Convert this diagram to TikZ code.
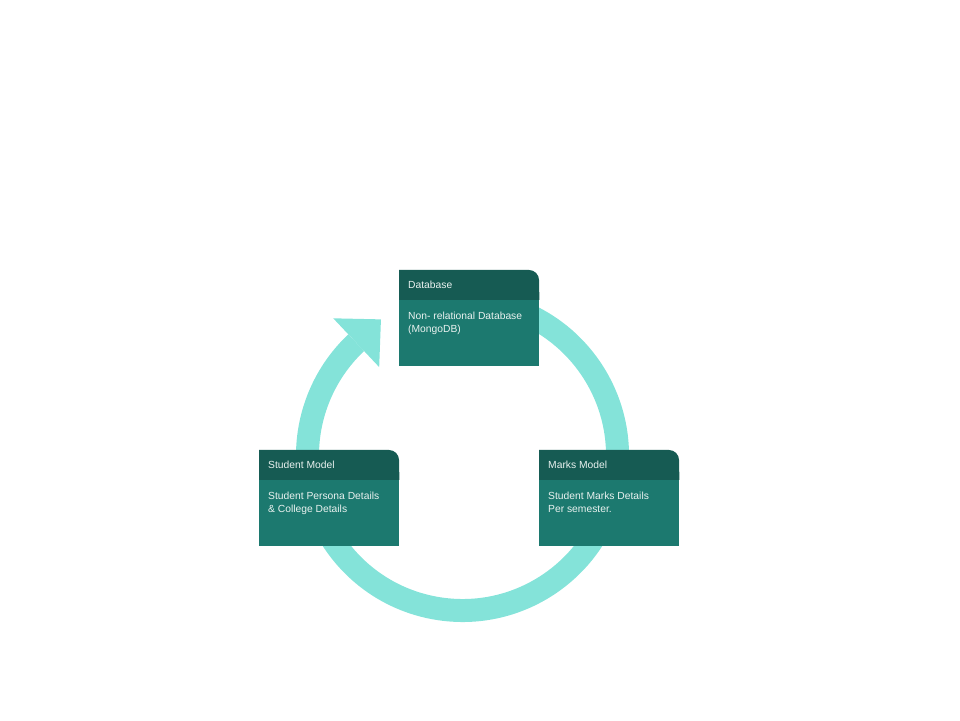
\documentclass[tikz,border=0pt]{standalone}
\usepackage{fontspec}
\setmainfont{Liberation Sans}
\usetikzlibrary{calc}
\definecolor{ringteal}{HTML}{84E3D9}
\definecolor{headteal}{HTML}{165B53}
\definecolor{bodyteal}{HTML}{1C796F}
\definecolor{paletext}{HTML}{EAF2F0}
\tikzset{
  boxbody/.style={fill=bodyteal, minimum width=140pt, minimum height=66pt, inner sep=0pt, anchor=north west},
  boxtext/.style={text=paletext, font=\fontsize{10.3}{13.3}\selectfont, align=left, anchor=west, inner sep=0pt},
  ring/.style={draw=ringteal, line width=23pt}
}
% name, left x, top y, title, text
\newcommand\modelbox[5]{%
  \node[boxbody] (#1) at (#2,#3-30) {};
  \fill[headteal] (#1.north west) -- ++(0,30) -- ++(130,0) arc[start angle=90, end angle=0, radius=10pt] -- (#1.north east) -- cycle;
  \node[boxtext] (#1title) at ([xshift=9pt,yshift=15pt]#1.north west) {#4};
  \node[boxtext, anchor=north west] (#1note) at ([xshift=9pt,yshift=-12pt]#1.north west) {#5};
}

\begin{document}
\begin{tikzpicture}[x=1pt, y=1pt]
  \useasboundingbox (0,0) rectangle (960,720);
  \coordinate (hub) at (462.5,264.5);
  \draw[ring] ([shift={(80:155)}]hub) arc[start angle=80, end angle=-226.7, radius=155pt];
  \fill[ringteal] ($(hub)+(133.3:188.5)$) -- ($(hub)+(133.3:155)+(43.3:34)$) -- ($(hub)+(133.3:121.5)$) -- cycle;
  \modelbox{db}{399}{450}{Database}{Non- relational Database\\(MongoDB)}
  \modelbox{student}{259}{270}{Student Model}{Student Persona Details\\\& College Details}
  \modelbox{marks}{539}{270}{Marks Model}{Student Marks Details\\Per semester.}
\end{tikzpicture}
\end{document}
